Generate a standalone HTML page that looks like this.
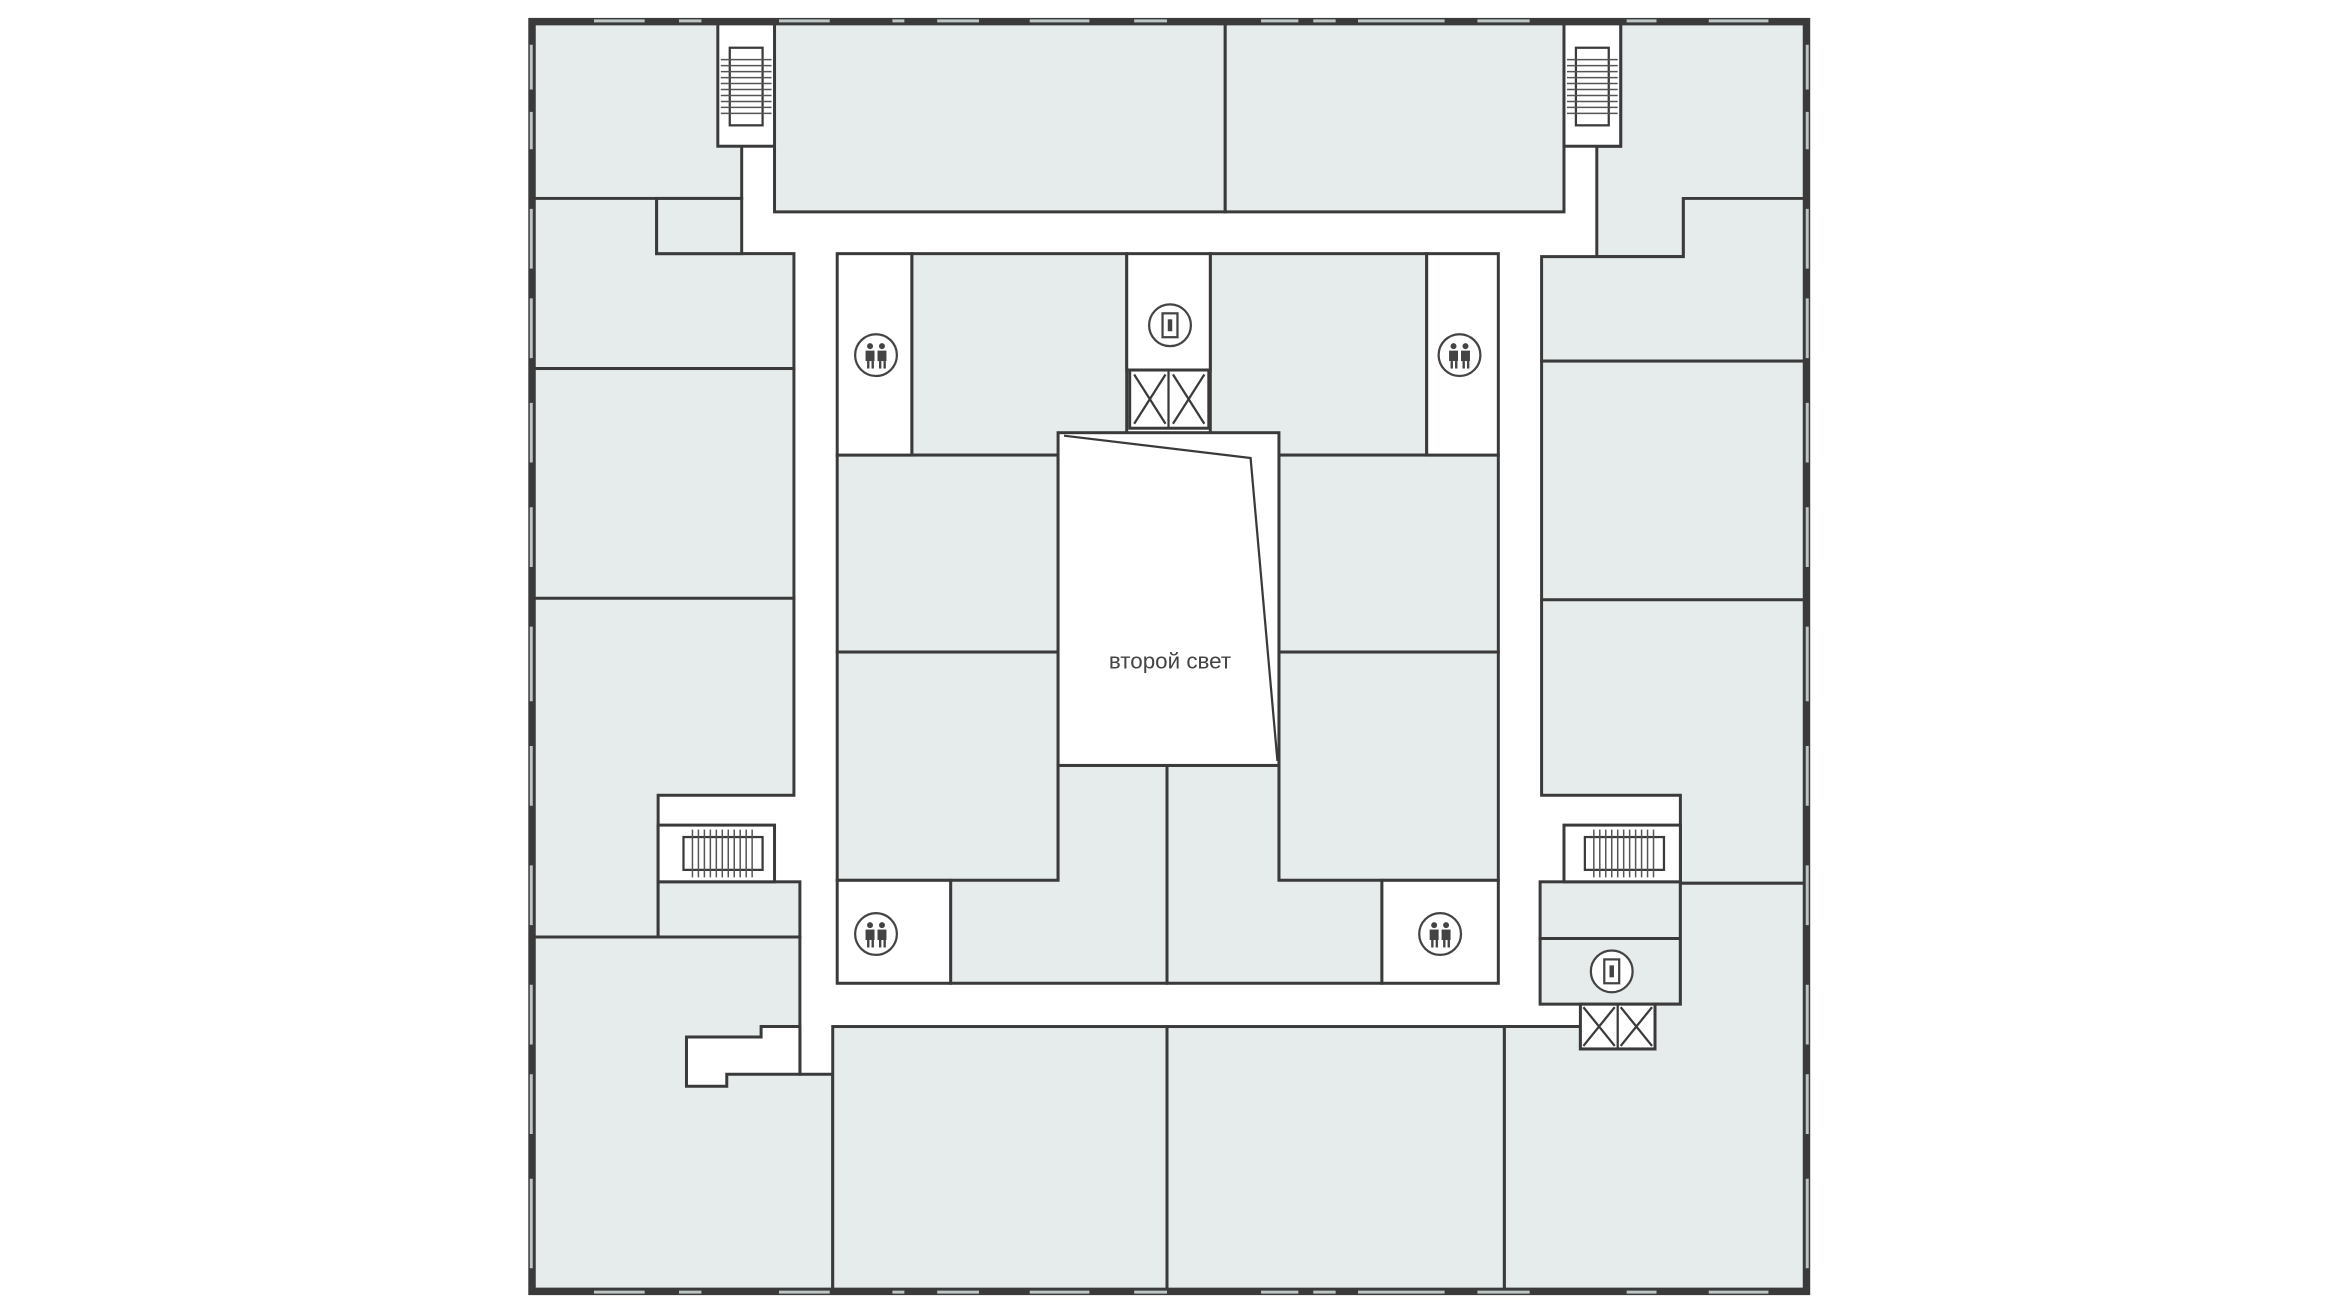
<!DOCTYPE html>
<html><head><meta charset="utf-8"><style>
html,body{margin:0;padding:0;background:#fff;width:2340px;height:1316px;overflow:hidden}
svg{display:block}
</style></head><body>
<svg width="2340" height="1316" viewBox="0 0 1568 882" preserveAspectRatio="none" xmlns="http://www.w3.org/2000/svg">
<defs>
<g id="wc"><circle r="14" fill="#fff" stroke="#444" stroke-width="1.5"/>
<circle cx="-4" cy="-6" r="2" fill="#444"/><circle cx="4" cy="-6" r="2" fill="#444"/>
<rect x="-7" y="-3" width="6" height="7" fill="#444"/><rect x="1" y="-3" width="6" height="7" fill="#444"/>
<rect x="-6" y="4" width="1.6" height="5" fill="#444"/><rect x="-3" y="4" width="1.6" height="5" fill="#444"/>
<rect x="2" y="4" width="1.6" height="5" fill="#444"/><rect x="5" y="4" width="1.6" height="5" fill="#444"/></g>
<g id="el"><circle r="14" fill="#fff" stroke="#444" stroke-width="1.5"/>
<rect x="-5" y="-8" width="10" height="16" fill="none" stroke="#444" stroke-width="1.5"/>
<rect x="-1.5" y="-4" width="3" height="8" fill="#444"/></g>
</defs>
<g fill="#e6ecec" stroke="#3a3a3a" stroke-width="2">
<rect x="358" y="16" width="139" height="117"/>
<polygon points="358,133 440,133 440,170 532,170 532,247 358,247"/>
<rect x="440" y="133" width="57" height="37"/>
<rect x="358" y="247" width="174" height="154"/>
<polygon points="358,401 532,401 532,533 441,533 441,628 358,628"/>
<rect x="441" y="591" width="95" height="37"/>
<polygon points="358,628 536,628 536,720 558,720 558,864 358,864"/>
<rect x="519" y="16" width="302" height="126"/>
<rect x="821" y="16" width="227" height="126"/>
<polygon points="1086,16 1209,16 1209,133 1128,133 1128,172 1070,172 1070,98 1086,98"/>
<polygon points="1033,172 1128,172 1128,133 1209,133 1209,242 1033,242"/>
<rect x="1033" y="242" width="176" height="160"/>
<polygon points="1033,402 1209,402 1209,592 1126,592 1126,533 1033,533"/>
<rect x="1032" y="591" width="94" height="38"/>
<rect x="1032" y="629" width="94" height="44"/>
<polygon points="1008,688 1059,688 1059,703 1109,703 1109,673 1126,673 1126,592 1209,592 1209,864 1008,864"/>
<rect x="558" y="688" width="224" height="176"/>
<rect x="782" y="688" width="226" height="176"/>
<rect x="611" y="170" width="144" height="135"/>
<rect x="811" y="170" width="145" height="135"/>
<rect x="561" y="305" width="148" height="132"/>
<rect x="561" y="437" width="148" height="153"/>
<rect x="857" y="305" width="147" height="132"/>
<rect x="857" y="437" width="147" height="153"/>
<polygon points="637,590 709,590 709,513 782,513 782,659 637,659"/>
<polygon points="782,513 857,513 857,590 926,590 926,659 782,659"/>
</g>
<g fill="#fff" stroke="#3a3a3a" stroke-width="2">
<rect x="481" y="16" width="38" height="82"/>
<rect x="1048" y="16" width="38" height="82"/>
<rect x="441" y="553" width="78" height="38"/>
<rect x="1048" y="553" width="78" height="38"/>
<rect x="561" y="170" width="50" height="135"/>
<rect x="755" y="170" width="56" height="78"/>
<rect x="956" y="170" width="48" height="135"/>
<rect x="561" y="590" width="76" height="69"/>
<rect x="926" y="590" width="78" height="69"/>
<rect x="709" y="290" width="148" height="223"/>
<polygon points="460,695 510,695 510,688 536,688 536,720 487,720 487,728 460,728"/>
<rect x="757" y="248" width="53" height="39"/>
<rect x="1059" y="673" width="50" height="30"/>
</g>
<g stroke="#3a3a3a" stroke-width="1.5" fill="none">
<polyline points="713,292 838,307 856,510"/>
<line x1="783" y1="248" x2="783" y2="287"/>
<line x1="760" y1="251" x2="781" y2="284"/><line x1="781" y1="251" x2="760" y2="284"/>
<line x1="786" y1="251" x2="807" y2="284"/><line x1="807" y1="251" x2="786" y2="284"/>
<line x1="1084" y1="673" x2="1084" y2="703"/>
<line x1="1061" y1="675" x2="1082" y2="701"/><line x1="1082" y1="675" x2="1061" y2="701"/>
<line x1="1086" y1="675" x2="1107" y2="701"/><line x1="1107" y1="675" x2="1086" y2="701"/>
<rect x="489" y="32" width="22" height="52"/>
<rect x="1056" y="32" width="22" height="52"/>
<rect x="458" y="561" width="53" height="22"/>
<rect x="1062" y="561" width="53" height="22"/>
</g>
<g stroke="#555" stroke-width="1">
<path d="M483 40H517M483 44H517M483 48H517M483 52H517M483 56H517M483 60H517M483 64H517M483 68H517M483 72H517M483 76H517"/>
<path d="M1050 40H1084M1050 44H1084M1050 48H1084M1050 52H1084M1050 56H1084M1050 60H1084M1050 64H1084M1050 68H1084M1050 72H1084M1050 76H1084"/>
<path d="M464 556V588M468 556V588M472 556V588M476 556V588M480 556V588M484 556V588M488 556V588M492 556V588M496 556V588M500 556V588M504 556V588"/>
<path d="M1068 556V588M1072 556V588M1076 556V588M1080 556V588M1084 556V588M1088 556V588M1092 556V588M1096 556V588M1100 556V588M1104 556V588M1108 556V588"/>
</g>
<rect x="356" y="14" width="855" height="852" fill="none" stroke="#3a3a3a" stroke-width="4"/>
<g stroke="#bcc4c4" stroke-width="2">
<path d="M398 14H432M455 14H470M522 14H556M598 14H606M628 14H656M690 14H730M760 14H782M845 14H870M880 14H895M910 14H968M990 14H1025M1090 14H1110M1145 14H1185"/>
<path d="M398 866H432M455 866H470M522 866H556M598 866H606M628 866H656M690 866H730M760 866H782M845 866H870M880 866H895M910 866H968M990 866H1025M1090 866H1110M1145 866H1185"/>
<path d="M356 30V60M356 75V100M356 140V180M356 200V240M356 270V310M356 340V380M356 420V470M356 500V540M356 580V620M356 660V700M356 720V760M356 790V850"/>
<path d="M1211 30V60M1211 75V100M1211 140V180M1211 200V240M1211 270V310M1211 340V380M1211 420V470M1211 500V540M1211 580V620M1211 660V700M1211 720V760M1211 790V850"/>
</g>
<use href="#wc" x="587" y="238"/><use href="#wc" x="978" y="238"/>
<use href="#wc" x="587" y="626"/><use href="#wc" x="965" y="626"/>
<use href="#el" x="784" y="218"/><use href="#el" x="1080" y="651"/>
<text x="784" y="448" text-anchor="middle" font-family="Liberation Sans, sans-serif" font-size="15" fill="#444">второй свет</text>
</svg>
</body></html>
